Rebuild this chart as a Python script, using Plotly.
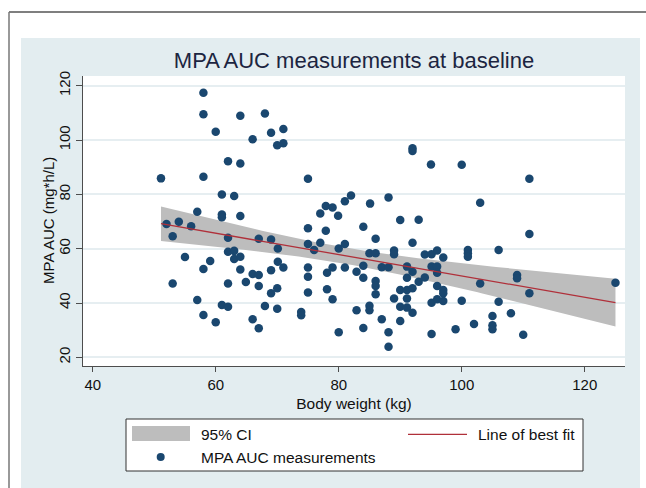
import numpy as np
import plotly.graph_objects as go

# ---- data ----
body_weight = [
    51.1, 52.0, 53.0, 53.0, 54.0, 55.0, 56.0, 57.0, 57.0, 58.0,
    58.0, 58.0, 58.0, 58.0, 59.1, 60.0, 60.0, 61.0, 61.0, 61.0,
    61.0, 62.0, 62.0, 62.0, 62.0, 62.0, 63.0, 63.0, 63.0, 64.0,
    64.0, 64.0, 64.0, 64.0, 64.9, 66.0, 66.0, 66.0, 67.0, 67.0,
    67.0, 67.0, 68.0, 68.0, 69.0, 69.0, 69.0, 69.0, 70.0, 70.1,
    70.1, 70.0, 70.0, 71.0, 71.0, 71.0, 73.9, 73.9, 75.0, 75.0,
    75.0, 75.0, 75.0, 75.0, 76.0, 77.0, 77.0, 77.9, 77.9, 78.1,
    78.1, 79.0, 79.0, 79.0, 79.9, 80.0, 80.0, 81.0, 81.0, 81.0,
    82.0, 82.9, 82.9, 84.0, 84.0, 84.0, 84.0, 85.0, 85.0, 85.0,
    85.1, 86.0, 86.0, 86.0, 86.0, 86.0, 87.0, 87.0, 88.1, 88.1,
    88.1, 88.1, 89.0, 89.0, 89.0, 90.0, 90.0, 90.0, 90.0, 91.1,
    91.1, 91.1, 91.1, 91.1, 92.0, 92.0, 92.0, 92.0, 92.0, 92.0,
    93.0, 93.0, 94.0, 94.0, 95.0, 95.1, 95.1, 95.1, 95.1, 96.0,
    96.0, 96.0, 96.0, 96.0, 97.0, 97.0, 97.0, 97.0, 99.0, 100.0,
    100.0, 101.0, 101.0, 101.0, 102.0, 103.0, 103.0, 105.0, 105.0, 105.0,
    106.0, 106.0, 108.0, 109.0, 109.0, 110.0, 111.0, 111.0, 111.0, 125.0,
]
mpa_auc = [
    85.9, 69.1, 64.6, 47.2, 69.9, 56.9, 68.3, 73.6, 41.1, 117.4,
    109.5, 86.5, 52.5, 35.6, 55.5, 103.1, 32.9, 80.0, 72.6, 71.6,
    39.3, 92.2, 64.0, 58.9, 47.2, 38.6, 79.4, 59.2, 56.2, 109.0,
    91.4, 72.0, 57.0, 52.3, 47.7, 34.0, 100.3, 50.7, 63.7, 50.3,
    46.3, 30.7, 109.8, 38.9, 102.7, 63.4, 52.1, 43.6, 98.1, 60.1,
    55.2, 45.4, 37.9, 104.1, 98.8, 53.1, 36.7, 35.5, 85.8, 67.5,
    61.7, 53.1, 49.7, 43.9, 59.5, 73.0, 62.2, 75.7, 66.6, 51.1,
    45.1, 75.2, 53.1, 41.4, 72.1, 60.1, 29.2, 77.5, 61.7, 53.1,
    79.6, 51.5, 37.3, 68.1, 53.7, 49.3, 30.8, 58.3, 39.0, 37.3,
    76.6, 63.7, 58.3, 48.1, 46.3, 43.2, 53.2, 34.0, 78.9, 53.2,
    29.2, 23.9, 59.3, 58.0, 41.7, 70.6, 44.8, 38.6, 33.4, 53.4,
    49.3, 44.8, 41.7, 38.3, 97.0, 96.0, 62.2, 51.5, 45.4, 36.4,
    70.7, 47.8, 57.9, 49.4, 91.0, 58.0, 53.4, 40.1, 28.6, 59.3,
    53.4, 51.1, 46.3, 41.4, 56.8, 44.8, 43.6, 40.7, 30.3, 90.9,
    40.8, 59.5, 58.3, 57.0, 32.3, 76.9, 47.2, 35.2, 31.8, 30.3,
    59.5, 40.5, 36.2, 50.3, 49.1, 28.3, 85.8, 65.4, 43.6, 47.5,
]
x_ticks = [40, 60, 80, 100, 120]
y_ticks = [20, 40, 60, 80, 100, 120]

title_text = "MPA AUC measurements at baseline"
x_title = "Body weight (kg)"
y_title = "MPA AUC (mg*h/L)"
legend_labels = ["95% CI", "Line of best fit", "MPA AUC measurements"]

# ---- linear fit with 95% CI of the mean (as Stata lfitci) ----
xw = np.array(body_weight, dtype=float)
ya = np.array(mpa_auc, dtype=float)
n = len(xw)
slope, intercept = np.polyfit(xw, ya, 1)
resid = ya - (intercept + slope * xw)
s = np.sqrt(np.sum(resid ** 2) / (n - 2))
sxx = np.sum((xw - xw.mean()) ** 2)
t_crit = 1.975
grid = np.linspace(xw.min(), xw.max(), 100)
fit = intercept + slope * grid
half = t_crit * s * np.sqrt(1.0 / n + (grid - xw.mean()) ** 2 / sxx)
upper = fit + half
lower = fit - half

# ---- layout geometry (pixels) ----
W, H = 646, 488
L, R, T, B = 83, 625, 76, 366
PW, PH = R - L, B - T


def px(xp):
    return (xp - L) / PW


def py(yp):
    return 1 - (yp - T) / PH


BG = "#e3edf0"
FONT = "Liberation Sans, Arial, Helvetica, sans-serif"
NAVY = "#1a476f"
RED = "#b0303a"
GRAY = "#bdbdbd"

fig = go.Figure()
fig.add_trace(go.Scatter(
    x=np.concatenate([grid, grid[::-1]]),
    y=np.concatenate([upper, lower[::-1]]),
    fill="toself", fillcolor=GRAY, line=dict(width=0),
    mode="lines", name=legend_labels[0], hoverinfo="skip", showlegend=False,
))
fig.add_trace(go.Scatter(
    x=body_weight, y=mpa_auc, mode="markers", name=legend_labels[2],
    marker=dict(color=NAVY, size=8.5, line=dict(width=0)), showlegend=False,
))
fig.add_trace(go.Scatter(
    x=grid, y=fit, mode="lines", name=legend_labels[1],
    line=dict(color=RED, width=1.3), showlegend=False,
))

shapes = []
# white page outside the graph region
shapes.append(dict(type="rect", xref="paper", yref="paper", layer="below",
                   x0=px(-5), x1=px(W + 5), y0=py(-5), y1=py(38),
                   fillcolor="white", line=dict(width=0)))
shapes.append(dict(type="rect", xref="paper", yref="paper", layer="below",
                   x0=px(-5), x1=px(21), y0=py(-5), y1=py(H + 5),
                   fillcolor="white", line=dict(width=0)))
shapes.append(dict(type="rect", xref="paper", yref="paper", layer="below",
                   x0=px(640), x1=px(W + 5), y0=py(-5), y1=py(H + 5),
                   fillcolor="white", line=dict(width=0)))
# outer frame lines
shapes.append(dict(type="line", xref="paper", yref="paper",
                   x0=px(9), x1=px(W + 5), y0=py(12), y1=py(12),
                   line=dict(color="#555555", width=1.5)))
shapes.append(dict(type="line", xref="paper", yref="paper",
                   x0=px(9), x1=px(9), y0=py(12), y1=py(H + 5),
                   line=dict(color="#777777", width=1.5)))
# legend box
shapes.append(dict(type="rect", xref="paper", yref="paper",
                   x0=px(126), x1=px(583), y0=py(419), y1=py(471),
                   fillcolor="white", line=dict(color="#333333", width=1)))
shapes.append(dict(type="rect", xref="paper", yref="paper",
                   x0=px(132), x1=px(190), y0=py(426), y1=py(441),
                   fillcolor=GRAY, line=dict(width=0)))
shapes.append(dict(type="line", xref="paper", yref="paper",
                   x0=px(408), x1=px(467), y0=py(434.3), y1=py(434.3),
                   line=dict(color=RED, width=1.3)))
shapes.append(dict(type="circle", xref="paper", yref="paper",
                   x0=px(156.7), x1=px(164.7), y0=py(453), y1=py(461),
                   fillcolor=NAVY, line=dict(width=0)))

annotations = []
for text, xx, yy in [(legend_labels[0], 199, 434.3),
                     (legend_labels[1], 476, 434.3),
                     (legend_labels[2], 199, 457)]:
    annotations.append(dict(text=text, xref="paper", yref="paper",
                            x=px(xx), y=py(yy), xanchor="left", yanchor="middle",
                            showarrow=False,
                            font=dict(family=FONT, size=15.5, color="#111111")))
# y-axis title (rotated), placed like the reference
annotations.append(dict(text=y_title, xref="paper", yref="paper",
                        x=px(48), y=0.5, xanchor="center", yanchor="middle",
                        textangle=-90, showarrow=False,
                        font=dict(family=FONT, size=15, color="#111111")))

fig.update_layout(
    width=W, height=H,
    margin=dict(l=L, r=W - R, t=T, b=H - B, pad=0),
    paper_bgcolor=BG, plot_bgcolor="white",
    font=dict(family=FONT, size=15, color="#111111"),
    title=dict(text=title_text, x=0.5, xref="paper", xanchor="center",
               y=1 - 60 / H, yref="container", yanchor="middle",
               font=dict(family=FONT, size=22, color="#1c2541")),
    showlegend=False,
    shapes=shapes, annotations=annotations,
    xaxis=dict(range=[38.42, 126.55], tickvals=x_ticks, showgrid=False,
               zeroline=False, showline=True, linecolor="#4d4d4d", linewidth=1,
               ticks="outside", ticklen=5, tickcolor="#4d4d4d",
               tickfont=dict(family=FONT, size=15, color="#111111"),
               title=dict(text=x_title, standoff=6,
                          font=dict(family=FONT, size=15.5, color="#111111"))),
    yaxis=dict(range=[16.8, 123.6], tickvals=y_ticks, showgrid=True,
               gridcolor="#e6eef1", gridwidth=1.5,
               zeroline=False, showline=True, linecolor="#4d4d4d", linewidth=1,
               ticks="outside", ticklen=6, tickcolor="#4d4d4d", tickangle=-90,
               tickfont=dict(family=FONT, size=15, color="#111111")),
)

fig.write_html("out.html", config={"displayModeBar": False},
               post_script="document.body.style.margin='0';")
